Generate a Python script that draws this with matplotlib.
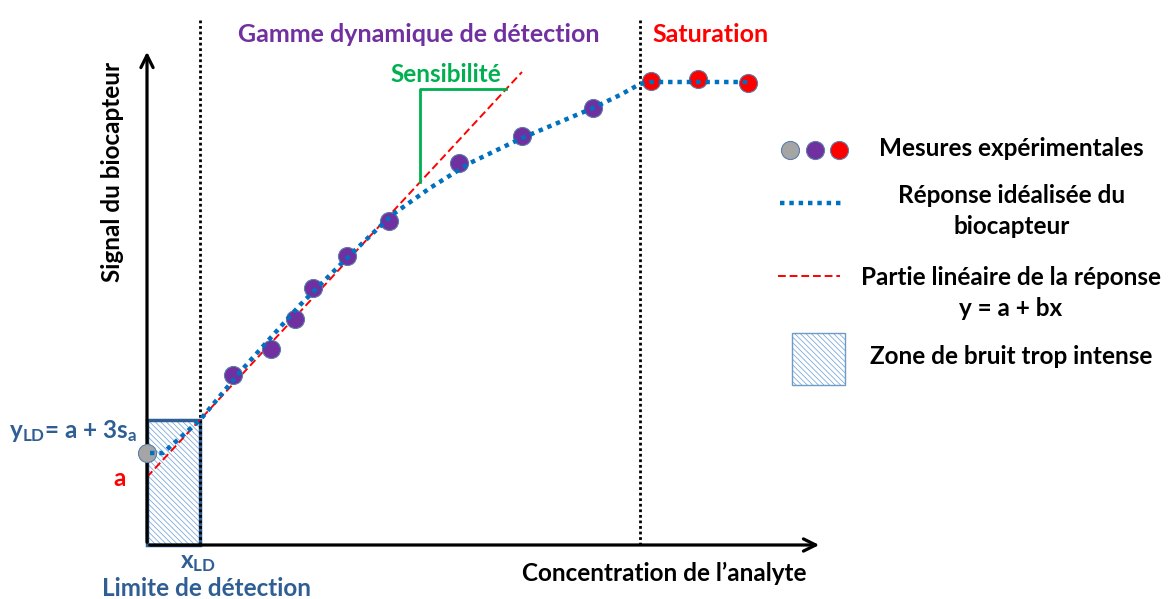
import matplotlib.pyplot as plt
import numpy as np

# arbitrary units: x = concentration, y = signal
gray_x = [0]
gray_y = [92]
purple_x = [86, 124, 148, 166, 200, 242, 312, 375, 446]
purple_y = [170, 196, 226, 257, 289, 324, 382, 409, 437]
red_x = [504, 551, 601]
red_y = [464, 466, 462]

# idealised response
curve_x = [3, 16, 53, 93, 153, 203, 245, 283, 323, 375, 446, 473, 493, 503, 553, 601]
curve_y = [92, 92, 125, 173, 240, 290, 330, 357, 382, 407, 437, 450, 461, 463, 463, 463]

# linear part y = a + bx
a_val = 68
b_val = 1.08
lin_x = [0, 375]

x_ld = 53
y_ld = 125
x_sat = 493
sens_x = [273, 359]

W, H = 1170, 599
BLUE = '#2E5E94'
PURPLE = '#7030A0'
GREEN = '#00B050'
RED = '#FF0000'
DOT = '#0070C0'
HATCH = '#7FAADB'
FS = 17.5

plt.rcParams['font.family'] = ['Lato', 'DejaVu Sans']
plt.rcParams['font.weight'] = 'bold'
plt.rcParams['mathtext.fontset'] = 'custom'
plt.rcParams['mathtext.bf'] = 'Lato:bold'
plt.rcParams['mathtext.rm'] = 'Lato:bold'
plt.rcParams['mathtext.default'] = 'bf'
plt.rcParams['hatch.linewidth'] = 0.6

fig = plt.figure(figsize=(W / 100, H / 100), dpi=100)


def fx(px):
    return px / W


def fy(py):
    return 1 - py / H


ax = fig.add_axes([fx(147), fy(545), 675 / W, 493 / H])
ax.set_xlim(0, 675)
ax.set_ylim(0, 493)
ax.axis('off')

# noise zone: hatch (edge colour drives hatch colour) then the dark border
ax.add_patch(plt.Rectangle((0, 0), x_ld, y_ld, facecolor='white', edgecolor=HATCH,
                           lw=0, hatch='\\' * 6, zorder=2, clip_on=False))
ax.add_patch(plt.Rectangle((0, 0), x_ld, y_ld, facecolor='none', edgecolor=BLUE,
                           lw=2.5, zorder=2, clip_on=False))

# axes arrows
ax.annotate('', xy=(675, 0), xytext=(0, 0),
            arrowprops=dict(arrowstyle='->', lw=2.3, color='black', mutation_scale=22),
            annotation_clip=False, zorder=5)
ax.annotate('', xy=(0, 496), xytext=(0, 0),
            arrowprops=dict(arrowstyle='->', lw=2.3, color='black', mutation_scale=22),
            annotation_clip=False, zorder=5)

# dotted limits
for xv in [x_ld, x_sat]:
    ax.plot([xv, xv], [0, 527], color='black', lw=2, ls=(0, (1, 1)), clip_on=False, zorder=3)

# linear part
lin_y = [a_val + b_val * v for v in lin_x]
ax.plot(lin_x, lin_y, color=RED, lw=1.4, ls=(0, (4, 2)), zorder=4, clip_on=False)

# sensitivity triangle
y_low = a_val + b_val * sens_x[0]
y_high = 456
ax.plot([sens_x[0], sens_x[0], sens_x[1]], [y_low, y_high, y_high], color=GREEN, lw=2, zorder=4)

# idealised curve
ax.plot(curve_x, curve_y, color=DOT, lw=3.2, ls=(0, (1, 1.1)), zorder=7, clip_on=False)

mk = dict(marker='o', ms=13, ls='none', mec='#5B7FA6', mew=0.8, zorder=6, clip_on=False)
ax.plot(gray_x, gray_y, mfc='#A5A5A5', **mk)
ax.plot(purple_x, purple_y, mfc=PURPLE, **mk)
ax.plot(red_x, red_y, mfc=RED, **mk)

# labels
fig.text(fx(419), fy(35), 'Gamme dynamique de détection', color=PURPLE, fontsize=18,
         ha='center', va='center')
fig.text(fx(711), fy(35), 'Saturation', color=RED, fontsize=18, ha='center', va='center')
fig.text(fx(446), fy(74), 'Sensibilité', color=GREEN, fontsize=FS, ha='center', va='center')
fig.text(fx(112), fy(172), 'Signal du biocapteur', color='black', fontsize=FS,
         ha='center', va='center', rotation=90)
fig.text(fx(664), fy(573), 'Concentration de l\u2019analyte', color='black', fontsize=FS,
         ha='center', va='center')
fig.text(fx(198), fy(563), r'x$_{LD}$', color=BLUE, fontsize=FS, ha='center', va='center')
fig.text(fx(206), fy(588), 'Limite de détection', color=BLUE, fontsize=FS, ha='center', va='center')
fig.text(fx(9), fy(431), r'y$_{LD}$= a + 3s$_{a}$', color=BLUE, fontsize=FS, ha='left', va='center')
fig.text(fx(120), fy(479), 'a', color=RED, fontsize=FS, ha='center', va='center')

# legend (drawn by hand, pixel layout)
lg = fig.add_axes([0, 0, 1, 1])
lg.set_xlim(0, W)
lg.set_ylim(H, 0)
lg.axis('off')
lg.plot([790], [150], mfc='#A5A5A5', **mk)
lg.plot([815], [150], mfc=PURPLE, **mk)
lg.plot([839], [150], mfc=RED, **mk)
lg.plot([780, 845], [203, 203], color=DOT, lw=3.2, ls=(0, (1, 1.1)))
lg.plot([778, 840], [276, 276], color=RED, lw=1.4, ls=(0, (4, 2)))
lg.add_patch(plt.Rectangle((792, 333), 53, 52, facecolor='white', edgecolor=HATCH,
                           lw=0, hatch='\\' * 6))
lg.add_patch(plt.Rectangle((792, 333), 53, 52, facecolor='none', edgecolor='#6F9BC8', lw=1))
lg.text(1011, 149, 'Mesures expérimentales', fontsize=FS, ha='center', va='center')
lg.text(1012, 211, 'Réponse idéalisée du\nbiocapteur', fontsize=FS, ha='center', va='center',
        linespacing=1.45)
lg.text(1011, 293, 'Partie linéaire de la réponse\ny = a + bx', fontsize=FS, ha='center',
        va='center', linespacing=1.45)
lg.text(1011, 357, 'Zone de bruit trop intense', fontsize=FS, ha='center', va='center')

fig.savefig('out.png', dpi=100)
